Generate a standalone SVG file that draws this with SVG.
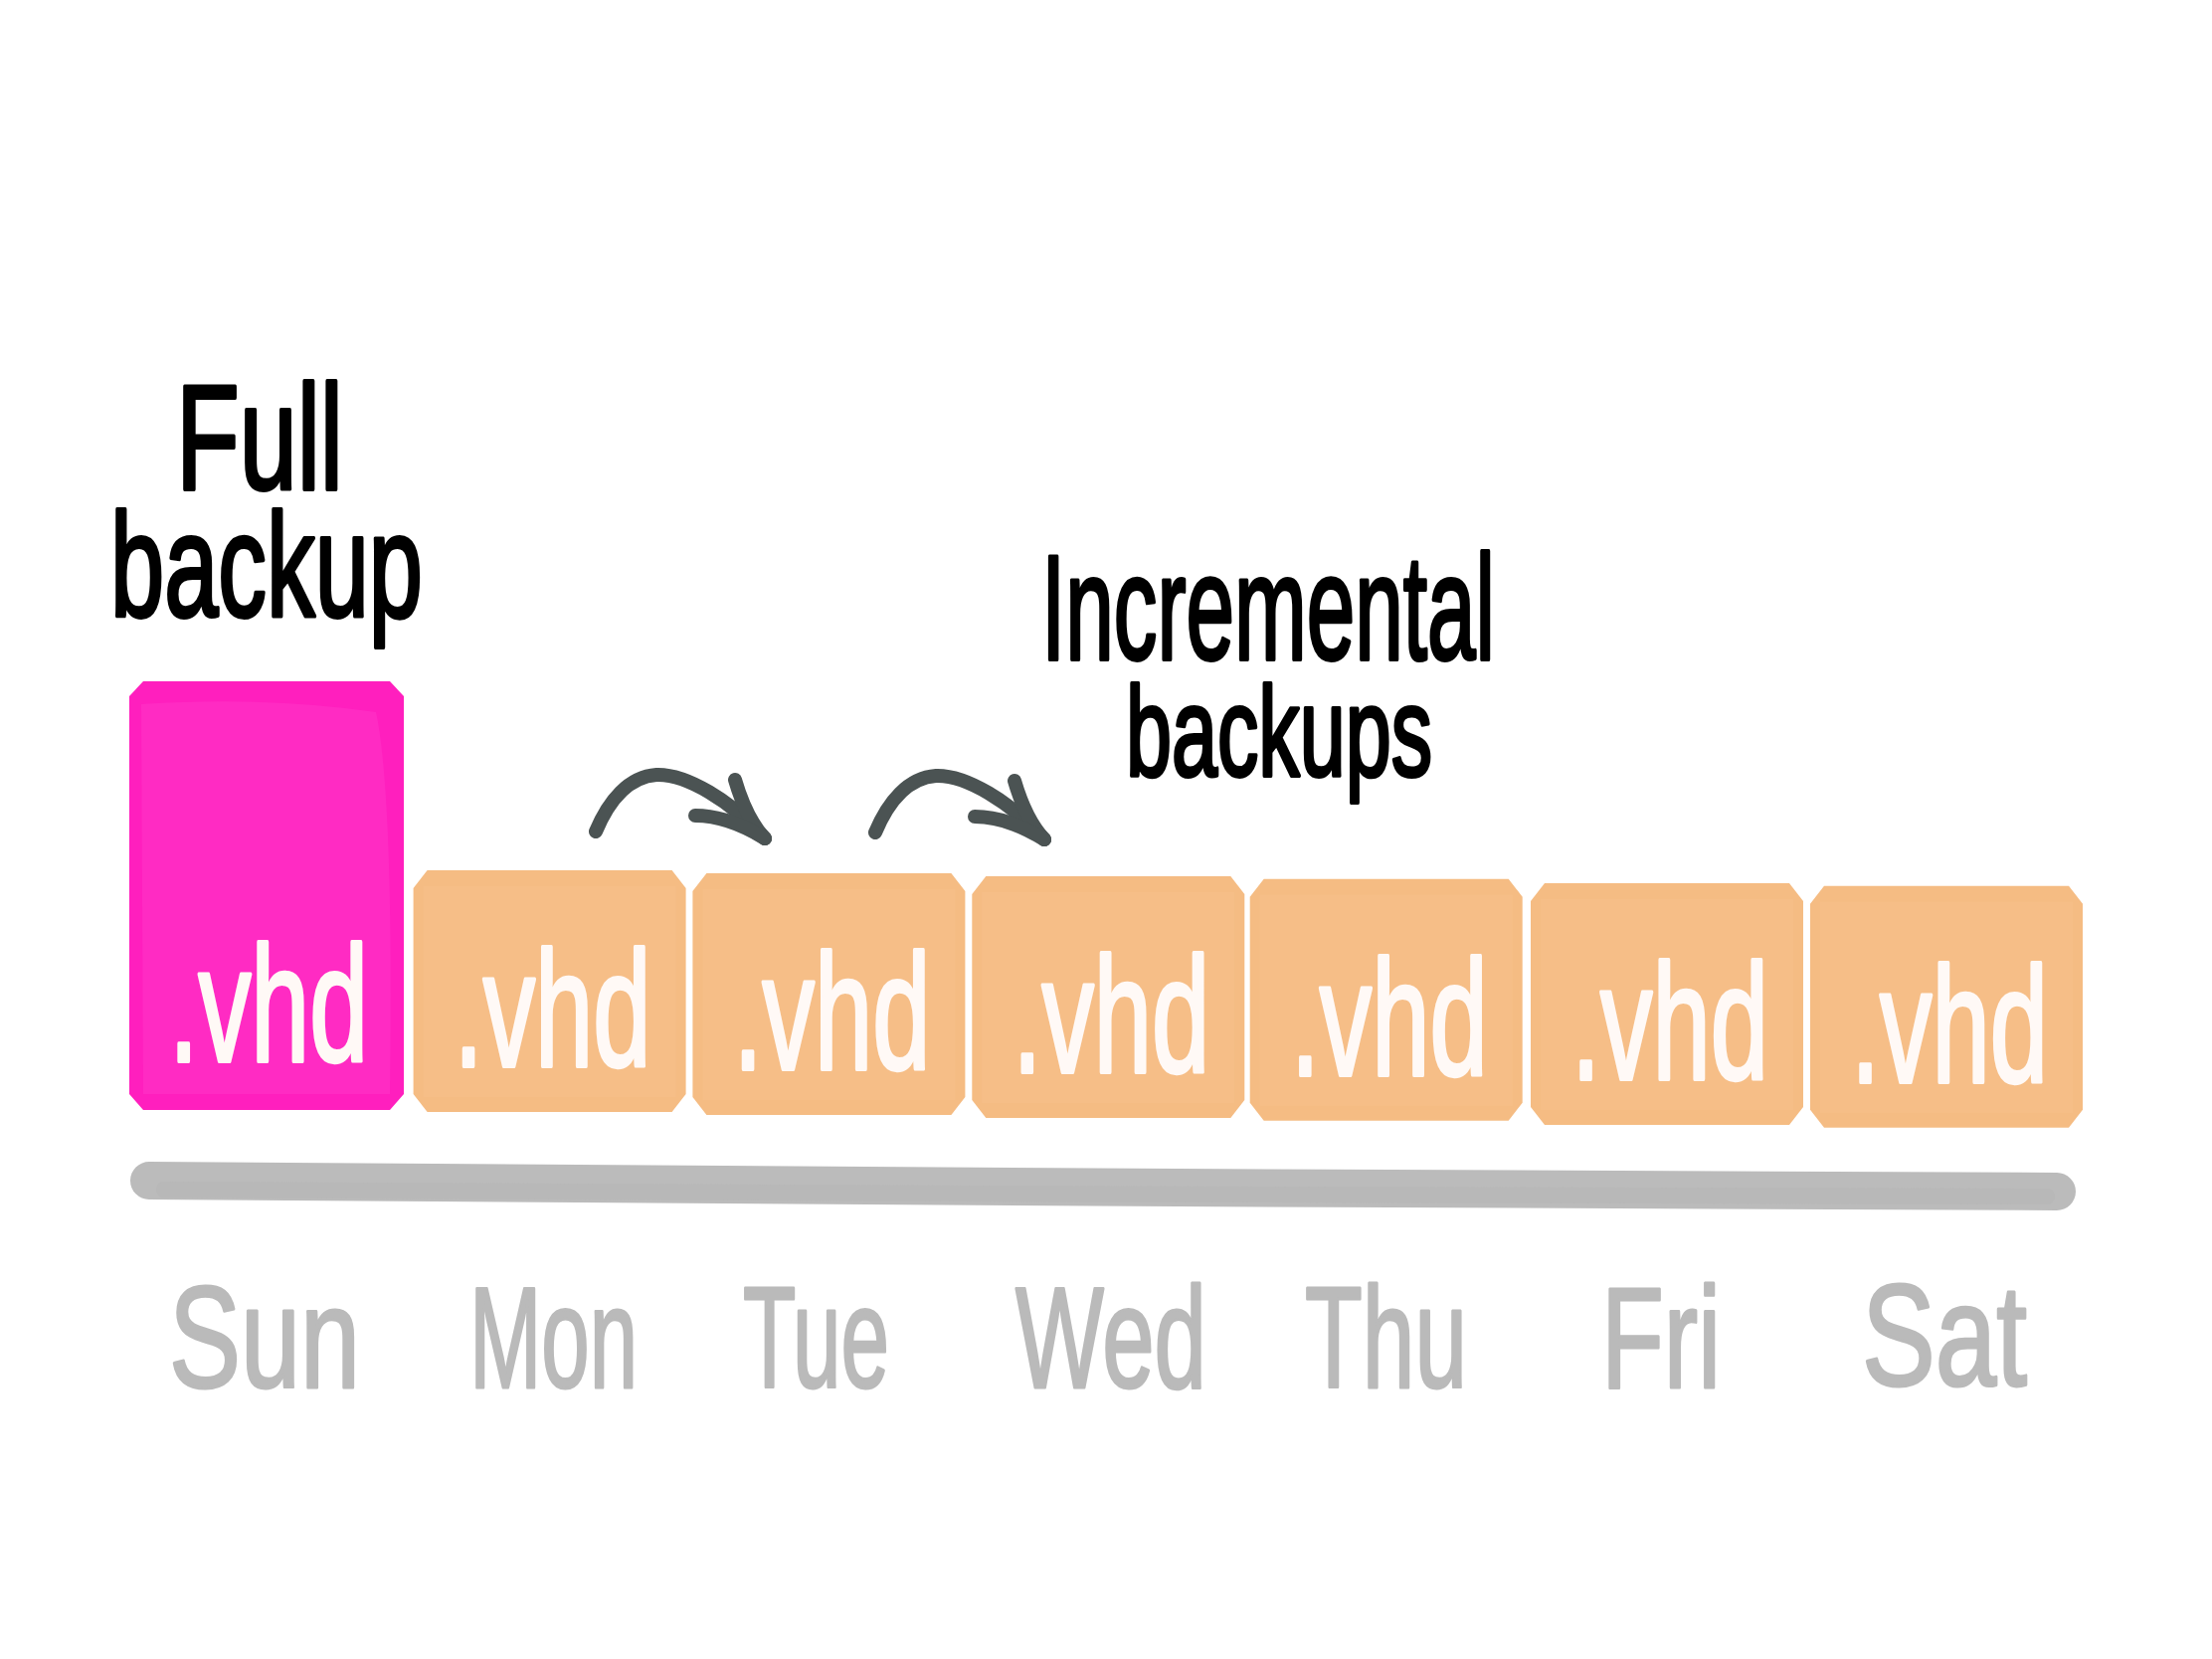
<svg xmlns="http://www.w3.org/2000/svg" xmlns:xlink="http://www.w3.org/1999/xlink" width="2224" height="1668" viewBox="0 0 2224 1668">
  <style>
    .hand { font-family: "Liberation Sans", "DejaVu Sans", sans-serif; }
    .title { fill: #000; stroke: #000; stroke-width: 4; stroke-linejoin: round; }
    .vhd { fill: #fff9f6; stroke: #fff9f6; stroke-width: 4; stroke-linejoin: round; font-size: 165px; }
    .day { fill: #bababa; stroke: #bababa; stroke-width: 3; stroke-linejoin: round; font-size: 145px; }
    .orange { fill: #f5bc83; }
    .orange-in { fill: #f6c08a; }
    .pink { fill: #ff1fbe; }
    .pink-in { fill: #ff2ec4; }
    .arrow { fill: none; stroke: #4b5353; stroke-width: 14; stroke-linecap: round; stroke-linejoin: round; }
  </style>
  <defs>
    <path id="obox" d="M14,0 H260 L274,18 V225 L260,243 H14 L0,225 V18 Z"/>
    <path id="oinner" d="M10,16 H264 V228 H10 Z"/>
    <g id="arrowshape">
      <path d="M599,836 C612,805 632,781 660,779 C690,778 735,805 769,843"/>
      <path d="M739,784 C746,808 755,828 769,843"/>
      <path d="M699,820 C724,820 748,830 769,843"/>
    </g>
  </defs>
  <rect width="2224" height="1668" fill="#ffffff"/>

  <!-- annotations -->
  <g id="label-full">
    <text class="hand title" x="177" y="492" font-size="150" textLength="168" lengthAdjust="spacingAndGlyphs">Full</text>
    <text class="hand title" x="111" y="620" font-size="148" textLength="314" lengthAdjust="spacingAndGlyphs">backup</text>
  </g>
  <g id="label-incremental">
    <text class="hand title" x="1047" y="663" font-size="150" textLength="456" lengthAdjust="spacingAndGlyphs">Incremental</text>
    <text class="hand title" x="1132" y="780" font-size="128" textLength="308" lengthAdjust="spacingAndGlyphs">backups</text>
  </g>

  <!-- nodes -->
  <g id="sun-box">
    <path class="pink" d="M144,685 H392 L406,700 V1100 L392,1116 H144 L130,1100 V700 Z"/>
    <path class="pink-in" d="M142,708 Q270,700 378,716 Q396,800 392,1100 H144 Z" opacity="0.8"/>
    <text class="hand vhd" x="170" y="1067" textLength="200" lengthAdjust="spacingAndGlyphs">.vhd</text>
  </g>
  <g id="mon-box" transform="translate(415.6,875)">
    <use xlink:href="#obox" class="orange"/>
    <use xlink:href="#oinner" class="orange-in" opacity="0.6"/>
    <text class="hand vhd" x="41" y="197" textLength="198" lengthAdjust="spacingAndGlyphs">.vhd</text>
  </g>
  <g id="tue-box" transform="translate(696.4,878)">
    <use xlink:href="#obox" class="orange"/>
    <use xlink:href="#oinner" class="orange-in" opacity="0.6"/>
    <text class="hand vhd" x="41" y="197" textLength="198" lengthAdjust="spacingAndGlyphs">.vhd</text>
  </g>
  <g id="wed-box" transform="translate(977.3,881)">
    <use xlink:href="#obox" class="orange"/>
    <use xlink:href="#oinner" class="orange-in" opacity="0.6"/>
    <text class="hand vhd" x="41" y="197" textLength="198" lengthAdjust="spacingAndGlyphs">.vhd</text>
  </g>
  <g id="thu-box" transform="translate(1256.7,883.7)">
    <use xlink:href="#obox" class="orange"/>
    <use xlink:href="#oinner" class="orange-in" opacity="0.6"/>
    <text class="hand vhd" x="41" y="197" textLength="198" lengthAdjust="spacingAndGlyphs">.vhd</text>
  </g>
  <g id="fri-box" transform="translate(1539,888)">
    <use xlink:href="#obox" class="orange"/>
    <use xlink:href="#oinner" class="orange-in" opacity="0.6"/>
    <text class="hand vhd" x="41" y="197" textLength="198" lengthAdjust="spacingAndGlyphs">.vhd</text>
  </g>
  <g id="sat-box" transform="translate(1820,890.8)">
    <use xlink:href="#obox" class="orange"/>
    <use xlink:href="#oinner" class="orange-in" opacity="0.6"/>
    <text class="hand vhd" x="41" y="197" textLength="198" lengthAdjust="spacingAndGlyphs">.vhd</text>
  </g>

  <!-- connectors -->
  <g id="connectors">
    <use xlink:href="#arrowshape" class="arrow"/>
    <use xlink:href="#arrowshape" class="arrow" transform="translate(281,1)"/>
  </g>

  <!-- timeline -->
  <g id="timeline">
    <path d="M150,1187 C700,1193 1500,1195 2068,1198" fill="none" stroke="#bbbbbb" stroke-width="38" stroke-linecap="round"/>
    <path d="M165,1196 C700,1200 1500,1202 2058,1203" fill="none" stroke="#b5b5b5" stroke-width="16" stroke-linecap="round" opacity="0.6"/>
  </g>

  <!-- day labels -->
  <g id="day-labels">
    <text class="hand day" x="170" y="1395" textLength="192" lengthAdjust="spacingAndGlyphs">Sun</text>
    <text class="hand day" x="472" y="1395" textLength="169" lengthAdjust="spacingAndGlyphs">Mon</text>
    <text class="hand day" x="747" y="1395" textLength="147" lengthAdjust="spacingAndGlyphs">Tue</text>
    <text class="hand day" x="1021" y="1395" textLength="192" lengthAdjust="spacingAndGlyphs">Wed</text>
    <text class="hand day" x="1312" y="1395" textLength="163" lengthAdjust="spacingAndGlyphs">Thu</text>
    <text class="hand day" x="1610" y="1395" textLength="120" lengthAdjust="spacingAndGlyphs">Fri</text>
    <text class="hand day" x="1872" y="1393" textLength="166" lengthAdjust="spacingAndGlyphs">Sat</text>
  </g>
</svg>
